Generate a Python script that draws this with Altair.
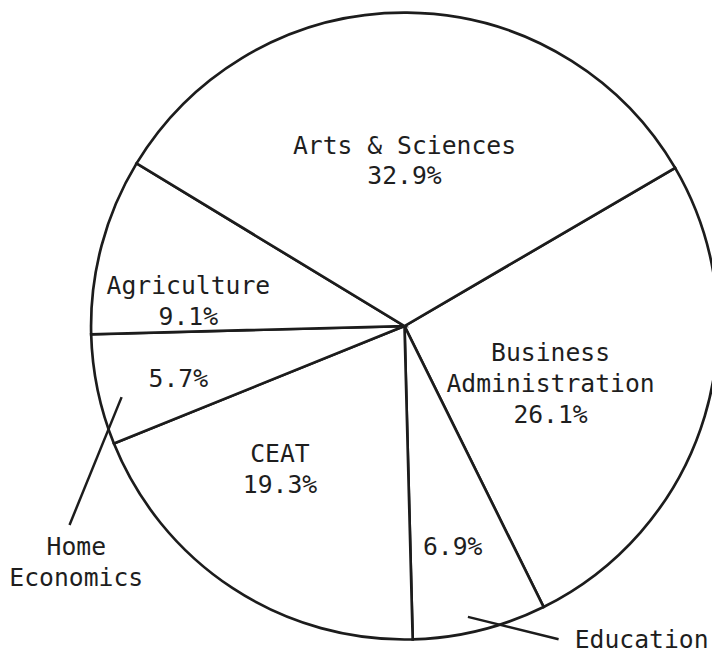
import math
import altair as alt
import pandas as pd

# ---- data (clockwise from the Business Administration slice) ----
categories = ["Business Administration", "Education", "CEAT",
              "Home Economics", "Agriculture", "Arts & Sciences"]
shares = [26.1, 6.9, 19.3, 5.7, 9.1, 32.9]

# label text shown inside each slice
inside_names = ["Business\nAdministration", "", "CEAT", "", "Agriculture", "Arts & Sciences"]
# labels placed outside the circle with leader lines
outside_names = ["Home\nEconomics", "Education"]

# ---- layout (polar: degrees clockwise from 12 o'clock, radius px) ----
W, H = 712, 646
CX, CY = 401, 318
R = 317
START_DEG = 59.7
FS, LH = 25, 31

inside_pos = [(111.7, 159), (167.7, 229), (221, 192), (256.7, 235), (276.5, 220), (0, 167)]
outside_pos = [(234.25, 409), (142.9, 397.6)]
leader_lines = [((255.9, 295), (239.3, 394)),   # Home Economics
                ((167.7, 301), (153.8, 353))]   # Education


def polar(a_deg, r):
    a = math.radians(a_deg)
    return CX + r * math.sin(a), CY - r * math.cos(a)


pie_df = pd.DataFrame({"category": categories, "share": shares,
                       "idx": list(range(len(categories)))})

lab_rows = []


def add_label(txt, a, r):
    x, y = polar(a, r)
    n = txt.count("\n") + 1
    lab_rows.append({"text": txt, "x": x, "y": y - (n - 1) * LH / 2})


for name, s, (a, r) in zip(inside_names, shares, inside_pos):
    add_label((name + "\n" if name else "") + f"{s}%", a, r)
for name, (a, r) in zip(outside_names, outside_pos):
    add_label(name, a, r)
lab_df = pd.DataFrame(lab_rows)

line_rows = []
for (p1, p2) in leader_lines:
    x1, y1 = polar(*p1)
    x2, y2 = polar(*p2)
    line_rows.append({"x": x1, "y": y1, "x2": x2, "y2": y2})
line_df = pd.DataFrame(line_rows)

a0 = math.radians(START_DEG)
pie = alt.Chart(pie_df).mark_arc(
    radius=R, fill="white", stroke="#1c1c1c", strokeWidth=2.7
).encode(
    theta=alt.Theta("share:Q", stack=True,
                    scale=alt.Scale(range=[a0, a0 + 2 * math.pi])),
    order=alt.Order("idx:Q"),
    x=alt.value(CX),
    y=alt.value(CY),
)

leaders = alt.Chart(line_df).mark_rule(
    stroke="#1c1c1c", strokeWidth=2.5
).encode(
    x=alt.X("x:Q", scale=None),
    y=alt.Y("y:Q", scale=None),
    x2="x2:Q",
    y2="y2:Q",
)

labels = alt.Chart(lab_df).mark_text(
    font="DejaVu Sans Mono", fontSize=FS, lineHeight=LH, lineBreak="\n",
    align="center", baseline="middle", color="#1e1e1e"
).encode(
    x=alt.X("x:Q", scale=None),
    y=alt.Y("y:Q", scale=None),
    text="text:N",
)

chart = alt.layer(pie, leaders, labels).properties(
    width=W, height=H, padding=0,
    autosize=alt.AutoSizeParams(type="none"),
    background="white",
).configure_view(stroke=None)

chart.save("out.html", embed_options={"renderer": "svg", "actions": False})
